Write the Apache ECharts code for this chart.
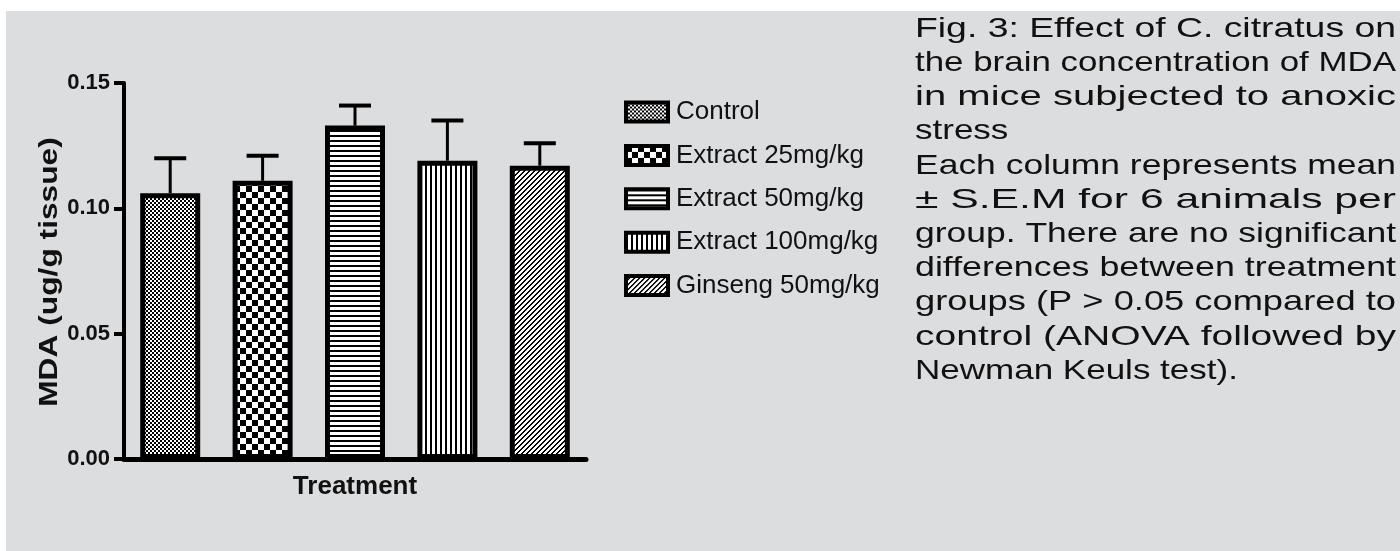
<!DOCTYPE html>
<html>
<head>
<meta charset="utf-8">
<script src="https://cdn.jsdelivr.net/npm/echarts@6/dist/echarts.min.js"></script>
<style>
html, body { margin: 0; padding: 0; background: #fff; }
#graphBar { width: 1400px; height: 551px; }
</style>
</head>
<body>
<div id="graphBar"></div>
<script>
var groups = ['Control', 'Extract 25mg/kg', 'Extract 50mg/kg', 'Extract 100mg/kg', 'Ginseng 50mg/kg'];
var meanMDA = [0.106, 0.111, 0.133, 0.119, 0.117];
var upperSEM = [0.120, 0.121, 0.141, 0.135, 0.126]; // mean + S.E.M
var yTicks = [0, 0.05, 0.10, 0.15];
var yTitle = 'MDA (ug/g tissue)';
var xTitle = 'Treatment';
var captionParas = [
    ['Fig. 3: Effect of C. citratus on',
     'the brain concentration of MDA',
     'in mice subjected to anoxic',
     'stress'],
    ['Each column represents mean',
     '\u00b1 S.E.M for 6 animals per',
     'group. There are no significant',
     'differences between treatment',
     'groups (P > 0.05 compared to',
     'control (ANOVA followed by',
     'Newman Keuls test).']
];

//hatch fills like the prism style bars
function tile(w, h, draw) {
    var c = document.createElement('canvas');
    c.width = w;
    c.height = h;
    var g = c.getContext('2d');
    g.fillStyle = '#fff';
    g.fillRect(0, 0, w, h);
    g.fillStyle = '#000';
    draw(g);
    return { image: c, repeat: 'repeat' };
}
var fills = [
    tile(4, 4, function (g) { g.fillRect(0, 0, 2, 2); g.fillRect(2, 2, 2, 2); }),
    tile(12, 12, function (g) { g.fillRect(0, 0, 6, 6); g.fillRect(6, 6, 6, 6); }),
    tile(1, 5, function (g) { g.fillRect(0, 0, 1, 2); }),
    tile(5, 1, function (g) { g.fillRect(0, 0, 2, 1); }),
    tile(5, 5, function (g) {
        for (var i = 0; i < 5; i++) {
            g.fillRect(i, 4 - i, 1, 1);
            g.fillRect(i, (5 - i) % 5, 1, 1);
        }
    })
];

var dom = document.getElementById('graphBar');
var myChart = echarts.init(dom);
var font = '"Liberation Sans", Arial, sans-serif';

var series = groups.map(function (name, i) {
    return {
        name: name,
        type: 'bar',
        stack: 'mda',
        barWidth: 60,
        itemStyle: { color: fills[i], borderColor: '#000', borderWidth: 5 },
        emphasis: { disabled: true },
        data: groups.map(function (g, j) { return j === i ? meanMDA[i] : '-'; })
    };
});
series.push({
    type: 'custom',
    name: 'SEM',
    z: 3,
    silent: true,
    data: groups.map(function (g, i) { return [i, meanMDA[i], upperSEM[i]]; }),
    renderItem: function (params, api) {
        var base = api.coord([api.value(0), api.value(1)]);
        var top = api.coord([api.value(0), api.value(2)]);
        return {
            type: 'group',
            children: [
                { type: 'line', shape: { x1: base[0], y1: base[1], x2: top[0], y2: top[1] }, style: { stroke: '#000', lineWidth: 3 } },
                { type: 'line', shape: { x1: top[0] - 16, y1: top[1], x2: top[0] + 16, y2: top[1] }, style: { stroke: '#000', lineWidth: 4 } }
            ]
        };
    }
});

// caption, justified lines are stretched to the column width
var measure = document.createElement('canvas').getContext('2d');
var capFont = '28px ' + font;
measure.font = capFont;
var capLeft = 915, capWidth = 481, capTop = 29, capStep = 34.2;
var graphics = [
    { type: 'rect', z: -10, silent: true, shape: { x: 6, y: 11, width: 1394, height: 540 }, style: { fill: '#dcdddf' } },
    {
        type: 'text', x: 50, y: 272, rotation: Math.PI / 2, scaleX: 1.22,
        style: { text: yTitle, font: 'bold 26px ' + font, fill: '#111', align: 'center', verticalAlign: 'middle' }
    }
];
var row = 0;
captionParas.forEach(function (para) {
    para.forEach(function (line, k) {
        var w = measure.measureText(line).width;
        var sx = k < para.length - 1 ? capWidth / w : 1.25;
        graphics.push({
            type: 'text', x: capLeft, y: capTop + capStep * row, scaleX: sx,
            style: { text: line, font: capFont, fill: '#111', align: 'left', verticalAlign: 'middle' }
        });
        row++;
    });
});

var option = {
    backgroundColor: '#fff',
    animation: false,
    grid: { left: 124, right: 814, top: 83, bottom: 92, containLabel: false },
    legend: {
        data: groups,
        orient: 'vertical',
        left: 619,
        top: 92,
        icon: 'rect',
        itemWidth: 42,
        itemHeight: 19,
        itemGap: 13.4,
        selectedMode: false,
        itemStyle: { borderColor: '#000', borderWidth: 4 },
        textStyle: { fontFamily: font, fontSize: 26, lineHeight: 30, color: '#111', padding: [0, 0, 0, 3] }
    },
    xAxis: {
        type: 'category',
        data: groups,
        name: xTitle,
        nameLocation: 'middle',
        nameGap: 15,
        nameTextStyle: { fontFamily: font, fontWeight: 'bold', fontSize: 26, color: '#111' },
        axisLine: { lineStyle: { color: '#000', width: 5 } },
        axisTick: { show: false },
        axisLabel: { show: false }
    },
    yAxis: {
        type: 'value',
        min: yTicks[0],
        max: yTicks[yTicks.length - 1],
        interval: yTicks[1] - yTicks[0],
        splitLine: { show: false },
        axisLine: { show: true, lineStyle: { color: '#000', width: 4 } },
        axisTick: { show: true, length: 10, lineStyle: { color: '#000', width: 4 } },
        axisLabel: {
            margin: 14,
            fontFamily: font,
            fontWeight: 'bold',
            fontSize: 22,
            color: '#111',
            formatter: function (v) { return v.toFixed(2); }
        }
    },
    graphic: graphics,
    series: series
};
myChart.setOption(option, true);
</script>
</body>
</html>
